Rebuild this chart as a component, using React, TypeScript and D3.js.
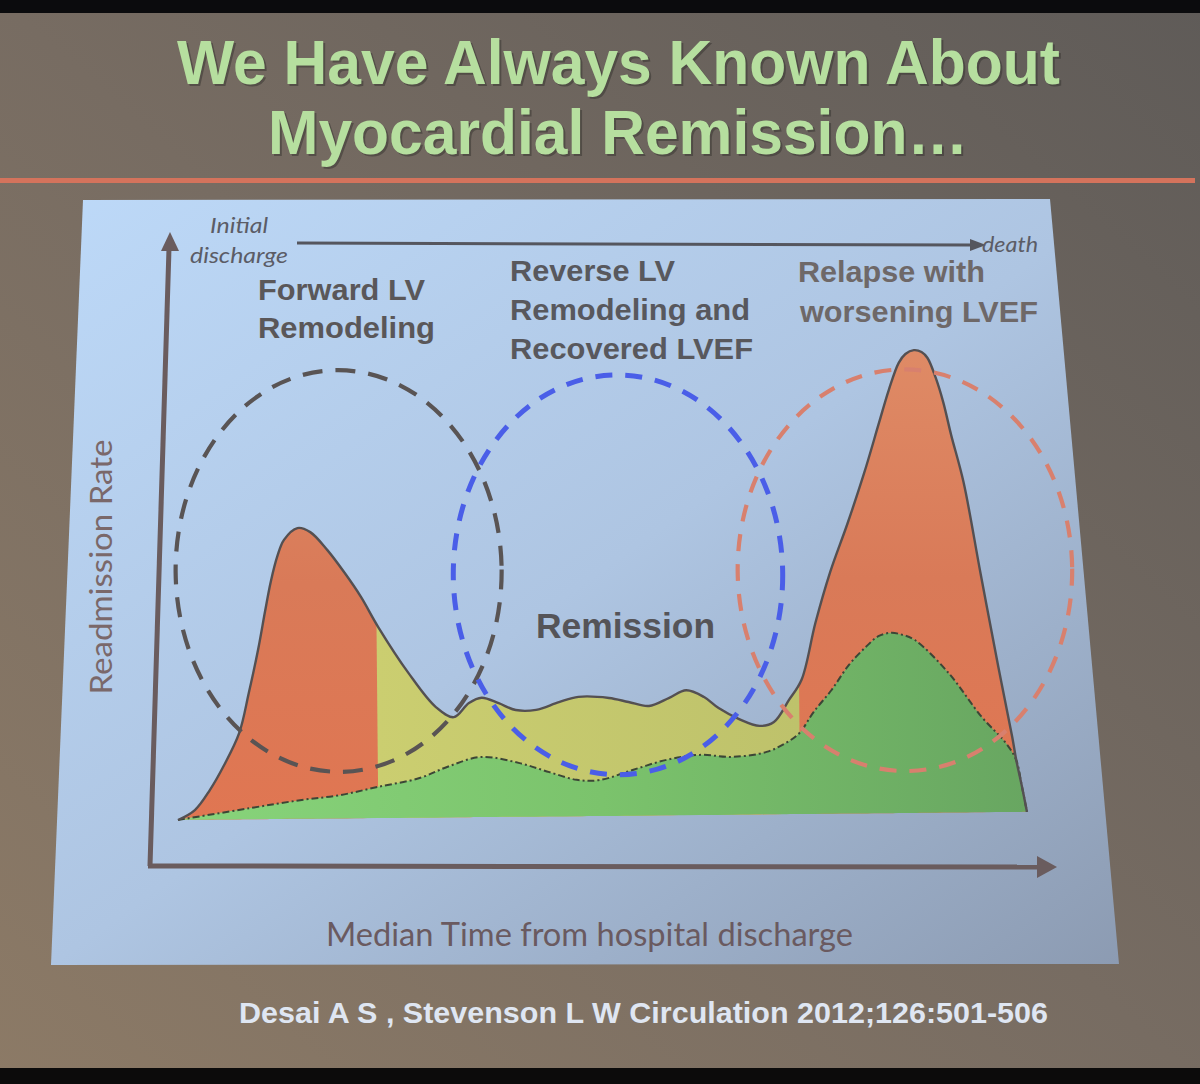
import React from "react";
import * as d3 from "d3";

// Time from initial discharge (0) to death (100); relative readmission rate
const totalTime = [0, 2.0, 3.8, 5.5, 7.3, 8.48, 9.66, 10.48, 11.19, 12.0, 12.8, 14.4, 15.9, 17.9, 19.9, 21.8, 23.8, 27.3, 30.5, 32.6, 34.4, 35.9, 37.9, 39.9, 42.3, 45.0, 47.3, 50.9, 53.2, 55.6, 58.0, 60.0, 62.1, 63.8, 66.2, 68.6, 70.3, 72.1, 73.6, 75.3, 77.1, 79.2, 81.2, 83.0, 84.2, 85.4, 86.2, 87.2, 88.1, 88.8, 89.75, 90.6, 91.5, 92.9, 94.8, 96.8, 98.35, 98.8, 99.4, 100];
const totalRate = [0, 2.1, 6.4, 11.7, 18.5, 27.1, 36.7, 44.5, 50.9, 56.4, 59.9, 62.4, 61.5, 57.6, 52.7, 47.5, 41.0, 31.1, 23.7, 21.5, 24.5, 25.6, 24.4, 22.9, 22.9, 24.5, 25.6, 25.3, 24.4, 23.5, 25.2, 26.8, 25.3, 22.9, 20.5, 19.0, 19.8, 24.5, 28.8, 41.0, 51.9, 62.3, 73.0, 83.7, 90.8, 96.6, 98.5, 99.3, 98.9, 97.6, 93.3, 88.1, 81.0, 70.9, 51.3, 31.1, 16.1, 11.1, 5.8, 0];

const baseTime = [0, 8.5, 14.4, 19.1, 23.6, 28.5, 32.0, 35.8, 40.3, 43.8, 47.0, 49.7, 53.6, 57.6, 61.5, 65.4, 69.4, 71.7, 73.3, 75.0, 77.1, 79.2, 81.2, 82.7, 84.2, 85.6, 87.0, 90.9, 94.8, 97.6, 98.8, 99.4, 100];
const baseRate = [0, 2.4, 4.0, 5.0, 6.7, 8.5, 11.0, 12.9, 11.5, 9.5, 7.8, 7.7, 9.8, 11.9, 12.9, 12.4, 13.4, 15.3, 17.4, 21.9, 26.5, 31.9, 35.7, 38.0, 38.7, 38.2, 37.1, 30.0, 20.4, 14.8, 11.1, 5.8, 0];

// Remission phase (yellow) boundaries
const remissionBounds = [23.6, 73.3];

// Phase ellipses (data units)
const phaseCenterT = [19.2, 52.1, 85.9];
const phaseCenterR = [53.1, 51.7, 52.1];
const phaseRadiusT = [19.2, 19.4, 19.7];
const phaseRadiusR = [43.1, 42.9, 43.1];
const phaseColors = ["#595454", "#4a5ee8", "#d8806e"];

const titleLines = ["We Have Always Known About", "Myocardial Remission…"];
const citation = "Desai A S , Stevenson L W Circulation 2012;126:501-506";

type P = [number, number];

export default function App() {
  const x = d3.scaleLinear().domain([0, 100]).range([178, 1027]);
  const y = d3.scaleLinear().domain([0, 100]).range([820, 354]);
  const total: P[] = totalTime.map((t, i) => [t, totalRate[i]]);
  const base: P[] = baseTime.map((t, i) => [t, baseRate[i]]);
  const curve = d3.curveCatmullRom.alpha(0.5);
  const line = d3.line<P>().x(d => x(d[0])).y(d => y(d[1])).curve(curve);
  const area = d3.area<P>().x(d => x(d[0])).y0(y(0)).y1(d => y(d[1])).curve(curve);

  const narrow = "'Liberation Sans Narrow','Liberation Sans',Arial,sans-serif";
  const sans = "'Liberation Sans',Arial,sans-serif";
  const lato = "Lato,'Open Sans',sans-serif";

  return (
    <svg width={1200} height={1084} style={{ position: "absolute", left: 0, top: 0, display: "block" }}>
      <defs>
        <linearGradient id="bg" x1="1" y1="0" x2="0" y2="1">
          <stop offset="0" stopColor="#5f5b58" />
          <stop offset="0.5" stopColor="#776c62" />
          <stop offset="1" stopColor="#8c7a66" />
        </linearGradient>
        <linearGradient id="panel" x1="0" y1="0" x2="1" y2="1">
          <stop offset="0" stopColor="#bdd9f8" />
          <stop offset="0.5" stopColor="#aec5e2" />
          <stop offset="1" stopColor="#8c9bb2" />
        </linearGradient>
        <linearGradient id="orange" gradientUnits="userSpaceOnUse" x1="0" y1="350" x2="0" y2="820">
          <stop offset="0" stopColor="#df8b66" />
          <stop offset="0.5" stopColor="#d97a58" />
          <stop offset="1" stopColor="#e07652" />
        </linearGradient>
        <linearGradient id="yellow" gradientUnits="userSpaceOnUse" x1="378" y1="0" x2="800" y2="0">
          <stop offset="0" stopColor="#cbce70" />
          <stop offset="1" stopColor="#bec26b" />
        </linearGradient>
        <linearGradient id="green" gradientUnits="userSpaceOnUse" x1="178" y1="0" x2="1027" y2="0">
          <stop offset="0" stopColor="#88d47b" />
          <stop offset="0.5" stopColor="#7bc36c" />
          <stop offset="1" stopColor="#68a661" />
        </linearGradient>
        <clipPath id="remission">
          <rect x={x(remissionBounds[0])} y={300} width={x(remissionBounds[1]) - x(remissionBounds[0])} height={600} />
        </clipPath>
      </defs>

      {/* slide background */}
      <rect x={0} y={0} width={1200} height={1084} fill="url(#bg)" />
      <rect x={0} y={0} width={1200} height={13} fill="#0b0b0d" />
      <rect x={0} y={1068} width={1200} height={16} fill="#0c0b0b" />

      {/* title */}
      {titleLines.map((t, i) => (
        <g key={t}>
          <text x={(i === 0 ? 177 : 268) + 2} y={(i === 0 ? 84 : 154) + 2} fontFamily={narrow} fontWeight="bold" fontSize={63}
            textLength={i === 0 ? 883 : 700} lengthAdjust="spacingAndGlyphs" fill="#2f2e2a" opacity={0.45}>{t}</text>
          <text x={i === 0 ? 177 : 268} y={i === 0 ? 84 : 154} fontFamily={narrow} fontWeight="bold" fontSize={63}
            textLength={i === 0 ? 883 : 700} lengthAdjust="spacingAndGlyphs" fill="#b6df9f">{t}</text>
        </g>
      ))}
      <rect x={0} y={178} width={1195} height={5} fill="#d4735c" />

      {/* projected panel */}
      <polygon points="83,200 1050,199 1119,964 51,965" fill="url(#panel)" />

      {/* timeline arrow */}
      <line x1={297} y1={243} x2={972} y2={245} stroke="#55565e" strokeWidth={3} />
      <polygon points="986,245 970,239 970,251" fill="#55565e" />
      <text x={210} y={233} fontFamily={lato} fontStyle="italic" fontSize={21} fill="#5b5c66" textLength={58} lengthAdjust="spacingAndGlyphs">Initial</text>
      <text x={190} y={263} fontFamily={lato} fontStyle="italic" fontSize={21} fill="#5b5c66" textLength={98} lengthAdjust="spacingAndGlyphs">discharge</text>
      <text x={982} y={252} fontFamily={lato} fontStyle="italic" fontSize={21} fill="#5b5c66" textLength={56} lengthAdjust="spacingAndGlyphs">death</text>

      {/* phase labels */}
      <g fontFamily={sans} fontWeight="bold" fontSize={30}>
        <text x={258} y={300} fill="#5a5759" textLength={167} lengthAdjust="spacingAndGlyphs">Forward LV</text>
        <text x={258} y={338} fill="#5a5759" textLength={177} lengthAdjust="spacingAndGlyphs">Remodeling</text>
        <text x={510} y={281} fill="#58585d" textLength={165} lengthAdjust="spacingAndGlyphs">Reverse LV</text>
        <text x={510} y={320} fill="#58585d" textLength={240} lengthAdjust="spacingAndGlyphs">Remodeling and</text>
        <text x={510} y={359} fill="#58585d" textLength={243} lengthAdjust="spacingAndGlyphs">Recovered LVEF</text>
        <text x={798} y={282} fill="#6e6868" textLength={187} lengthAdjust="spacingAndGlyphs">Relapse with</text>
        <text x={800} y={322} fill="#6e6868" textLength={238} lengthAdjust="spacingAndGlyphs">worsening LVEF</text>
        <text x={536} y={638} fontSize={35} fill="#555458" textLength={179} lengthAdjust="spacingAndGlyphs">Remission</text>
      </g>

      {/* data */}
      <g transform={`rotate(-0.55 ${x(0)} ${y(0)})`}>
        <path d={area(total) || ""} fill="url(#orange)" />
        <path d={area(total) || ""} fill="url(#yellow)" clipPath="url(#remission)" />
        <path d={area(base) || ""} fill="url(#green)" />
        <path d={line(base) || ""} fill="none" stroke="#3c4636" strokeWidth={2} strokeDasharray="7 3 2 3" />
        <path d={line(total) || ""} fill="none" stroke="#545052" strokeWidth={2.4} />
        {phaseCenterT.map((c, i) => (
          <ellipse key={i} cx={x(c)} cy={y(phaseCenterR[i])} rx={x(phaseRadiusT[i]) - x(0)} ry={y(0) - y(phaseRadiusR[i])}
            fill="none" stroke={phaseColors[i]} strokeWidth={i === 1 ? 5 : 4.2} strokeDasharray={i === 0 ? "20 13" : "17 13"} />
        ))}
      </g>

      {/* axes */}
      <line x1={150} y1={866} x2={169} y2={248} stroke="#6a5c5e" strokeWidth={5} />
      <polygon points="170,232 161,251 179,251" fill="#6a5c5e" />
      <line x1={148} y1={866} x2={1040} y2={867} stroke="#6a5c5e" strokeWidth={5} />
      <polygon points="1057,867 1037,856 1037,878" fill="#6a5c5e" />

      <text transform="translate(112,567) rotate(-90)" textAnchor="middle" fontFamily={lato} fontSize={30} fill="#7a686a"
        textLength={255} lengthAdjust="spacingAndGlyphs">Readmission Rate</text>
      <text x={326} y={946} fontFamily={lato} fontSize={32} fill="#6a5a60" textLength={527} lengthAdjust="spacingAndGlyphs">Median Time from hospital discharge</text>

      <text x={239} y={1023} fontFamily={narrow} fontWeight="bold" fontSize={30} fill="#dfe6f2" textLength={809} lengthAdjust="spacingAndGlyphs">{citation}</text>
    </svg>
  );
}
